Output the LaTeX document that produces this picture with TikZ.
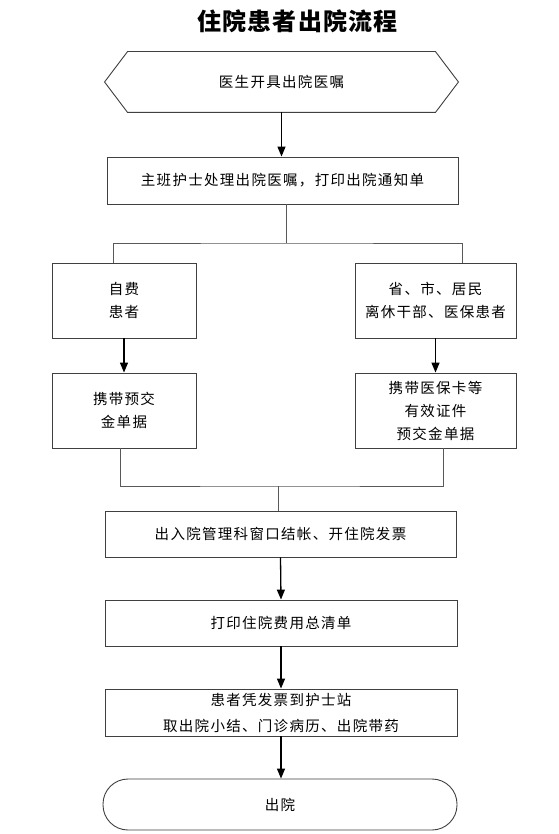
\documentclass[tikz,border=0pt]{standalone}
\usepackage{fontspec}
\newfontfamily\cjk{Noto Sans CJK SC}[LetterSpace=9]
\newfontfamily\cjktitle{Noto Sans CJK SC}[LetterSpace=5]
\usetikzlibrary{arrows.meta}
\begin{document}
\begin{tikzpicture}[x=1pt,y=-1pt,
  boxstyle/.style={draw=black!75,line width=0.9pt,rectangle,align=center,
    font=\cjk\fontsize{14.5}{23}\selectfont,inner sep=0pt},
  conn/.style={draw=black!65,line width=1pt},
  arr/.style={draw=black,line width=1.3pt,-{Triangle[width=8pt,length=10pt]}}]
\useasboundingbox (0,0) rectangle (558,834);
\fill[white] (0,0) rectangle (558,834);

\node (title) at (297.5,21) {\cjktitle\bfseries\fontsize{24}{28}\selectfont 住院患者出院流程};

\node[boxstyle,draw=none,minimum width=353pt,minimum height=60pt] (start) at (281.5,82) {医生开具出院医嘱};
\draw[draw=black!75,line width=0.9pt] (start.west) -- ([xshift=23pt]start.north west) -- ([xshift=-23pt]start.north east) -- (start.east) -- ([xshift=-23pt]start.south east) -- ([xshift=23pt]start.south west) -- cycle;

\node[boxstyle,minimum width=351pt,minimum height=47pt] (b2) at (282.5,180.5) {主班护士处理出院医嘱，打印出院通知单};

\node[boxstyle,minimum width=144pt,minimum height=75pt] (l1) at (124,300.5) {自费\\患者};
\node[boxstyle,minimum width=161pt,minimum height=75pt] (r1) at (435.5,300.5) {省、市、居民\\离休干部、医保患者};
\node[boxstyle,minimum width=144pt,minimum height=75pt] (l2) at (124,410.5) {携带预交\\金单据};
\node[boxstyle,minimum width=161pt,minimum height=75pt] (r2) at (435.5,410.5) {携带医保卡等\\有效证件\\预交金单据};

\node[boxstyle,minimum width=351pt,minimum height=46pt] (b3) at (280.5,534) {出入院管理科窗口结帐、开住院发票};
\node[boxstyle,minimum width=352pt,minimum height=46pt] (b4) at (281,623) {打印住院费用总清单};
\node[boxstyle,minimum width=352pt,minimum height=47pt,font=\cjk\fontsize{14.5}{26}\selectfont] (b5) at (281,712.5) {患者凭发票到护士站\\取出院小结、门诊病历、出院带药};
\node[boxstyle,minimum width=354pt,minimum height=51pt,rounded corners=25pt] (end) at (280,804.5) {出院};

% connectors
\draw[arr] (start.south) -- (start.south |- b2.north);

\coordinate (sp) at (286,243);
\coordinate (lt) at (113,263);
\coordinate (rt) at (462,263);
\draw[conn] (b2.south -| sp) -- (sp);
\draw[conn] (lt) |- (sp) -| (rt);

\draw[arr] (l1.south) -- (l2.north);
\draw[arr] (r1.south) -- (r2.north);

\coordinate (lb) at (120,448);
\coordinate (rb) at (443,448);
\coordinate (jn) at (278,486);
\draw[conn] (lb) |- (jn) -| (rb);
\draw[conn] (jn) -- (jn |- b3.north);

\draw[arr] (b3.south) -- (b4.north);
\draw[arr] (b4.south) -- (b5.north);
\draw[arr] (b5.south) -- (b5.south |- end.north);
\end{tikzpicture}
\end{document}
